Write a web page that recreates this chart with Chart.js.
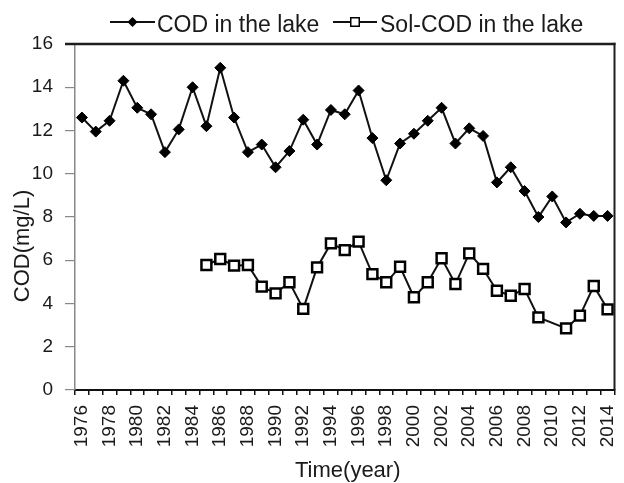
<!DOCTYPE html>
<html>
<head>
<meta charset="utf-8">
<script src="https://cdn.jsdelivr.net/npm/chart.js@4/dist/chart.umd.min.js"></script>
<style>
  html, body { margin: 0; padding: 0; background: #fff; }
  #wrap { width: 624px; height: 483px; }
</style>
</head>
<body>
<div id="wrap"><canvas id="c" width="624" height="483"></canvas></div>
<script>
// Years of record
const years = [];
for (let y = 1976; y <= 2014; y++) years.push(String(y));

// Total COD in the lake (mg/L), 1976-2014
const codLake = [
  12.6, 11.95, 12.45, 14.3, 13.05, 12.75, 11.0, 12.05, 14.0, 12.2,
  14.9, 12.6, 11.0, 11.35, 10.3, 11.05, 12.5, 11.35, 12.95, 12.75,
  13.85, 11.65, 9.7, 11.4, 11.85, 12.45, 13.05, 11.4, 12.1, 11.75,
  9.6, 10.3, 9.2, 8.0, 8.95, 7.75, 8.15, 8.05, 8.05
];

// Soluble COD in the lake (mg/L); no record before 1985 or for 2010
const solCodLake = [
  null, null, null, null, null, null, null, null, null, 5.78,
  6.06, 5.75, 5.78, 4.78, 4.47, 4.98, 3.75, 5.67, 6.78, 6.47,
  6.86, 5.36, 4.98, 5.70, 4.29, 4.98, 6.09, 4.90, 6.32, 5.60,
  4.59, 4.36, 4.67, 3.36, null, 2.85, 3.44, 4.81, 3.73
];

const yTicks = [0, 2, 4, 6, 8, 10, 12, 14, 16];
const seriesNames = ['COD in the lake', 'Sol-COD in the lake'];
const yTitle = 'COD(mg/L)';
const xTitle = 'Time(year)';

const FONT = '"Liberation Sans", Arial, sans-serif';
const INK = '#1a1a1a';

// Plot box edges, axis titles and the line+marker legend
const decorations = {
  id: 'decorations',
  afterDraw(chart) {
    const ctx = chart.ctx;
    const xs = chart.scales.x;
    const ys = chart.scales.y;
    const top = ys.getPixelForValue(16);
    const bottom = ys.getPixelForValue(0);
    const right = xs.right;
    ctx.save();

    // top and right edges of the box
    ctx.fillStyle = '#1e1e1e';
    ctx.fillRect(65, top - 1.25, right - 65 + 1, 2.5);
    ctx.fillRect(right - 1, top - 1.25, 2, bottom - top + 1.25);

    ctx.fillStyle = INK;
    ctx.font = '22px ' + FONT;
    ctx.textAlign = 'center';
    ctx.textBaseline = 'alphabetic';
    ctx.fillText(xTitle, (xs.left + xs.right) / 2 + 3, 477);

    ctx.save();
    ctx.translate(29, 246);
    ctx.rotate(-Math.PI / 2);
    ctx.fillText(yTitle, 0, 0);
    ctx.restore();

    const items = [
      { x0: 110, x1: 155, tx: 157, ds: chart.data.datasets[0] },
      { x0: 333, x1: 377, tx: 380, ds: chart.data.datasets[1] }
    ];
    const ly = 22;
    ctx.font = '23px ' + FONT;
    ctx.textAlign = 'left';
    items.forEach(it => {
      ctx.strokeStyle = it.ds.borderColor;
      ctx.lineWidth = 2;
      ctx.beginPath();
      ctx.moveTo(it.x0, ly);
      ctx.lineTo(it.x1, ly);
      ctx.stroke();
      ctx.fillStyle = it.ds.pointBackgroundColor;
      ctx.strokeStyle = it.ds.pointBorderColor;
      ctx.lineWidth = 1.5;
      Chart.helpers.drawPoint(ctx, {
        pointStyle: it.ds.pointStyle,
        radius: it.ds.pointStyle === 'rect' ? 6 : 4,
        borderWidth: 1.5
      }, (it.x0 + it.x1) / 2, ly);
      ctx.fillStyle = INK;
      ctx.fillText(it.ds.label, it.tx, 31.5);
    });

    ctx.restore();
  }
};

new Chart(document.getElementById('c'), {
  type: 'line',
  data: {
    labels: years,
    datasets: [
      {
        label: seriesNames[0],
        data: codLake,
        borderColor: '#111',
        borderWidth: 2,
        pointStyle: 'rectRot',
        pointRadius: 5.5,
        pointBackgroundColor: '#000',
        pointBorderColor: '#000',
        pointBorderWidth: 1,
        tension: 0
      },
      {
        label: seriesNames[1],
        data: solCodLake,
        borderColor: '#111',
        borderWidth: 2,
        spanGaps: true,
        pointStyle: 'rect',
        pointRadius: 7,
        pointBackgroundColor: '#fff',
        pointBorderColor: '#000',
        pointBorderWidth: 2.5,
        tension: 0
      }
    ]
  },
  options: {
    responsive: false,
    animation: false,
    devicePixelRatio: 1,
    layout: { padding: { top: 44, right: 2, left: 0, bottom: 0 } },
    plugins: {
      legend: { display: false },
      tooltip: { enabled: false }
    },
    scales: {
      x: {
        type: 'category',
        offset: true,
        afterFit(s) {
          s.height = 93;
          s.paddingLeft = 0;
          s.paddingRight = 0;
        },
        border: { display: true, color: '#111', width: 2 },
        grid: {
          offset: true,
          drawOnChartArea: false,
          drawTicks: true,
          tickLength: 5,
          color: '#111',
          lineWidth: 1.5
        },
        ticks: {
          autoSkip: false,
          minRotation: 90,
          maxRotation: 90,
          padding: 10,
          color: INK,
          font: { family: FONT, size: 19 },
          callback(v, i) { return i % 2 === 0 ? years[i] : ''; }
        }
      },
      y: {
        min: 0,
        max: 16,
        afterFit(s) {
          s.width = 75;
          s.paddingTop = 0;
          s.paddingBottom = 0;
        },
        afterBuildTicks(s) { s.ticks = yTicks.map(v => ({ value: v })); },
        border: { display: true, color: '#888', width: 1.5 },
        grid: {
          drawOnChartArea: false,
          drawTicks: true,
          tickLength: 10,
          color: '#888',
          lineWidth: 1.2
        },
        ticks: {
          padding: 12,
          color: INK,
          font: { family: FONT, size: 19 }
        }
      }
    }
  },
  plugins: [decorations]
});
</script>
</body>
</html>
